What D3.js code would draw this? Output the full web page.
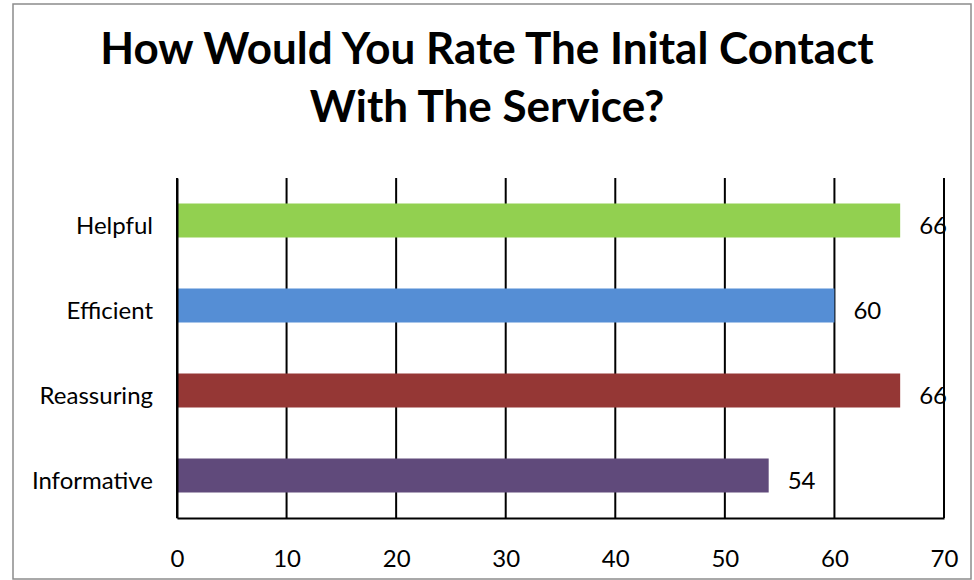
<!DOCTYPE html>
<html>
<head>
<meta charset="utf-8">
<script src="https://cdn.jsdelivr.net/npm/d3@7"></script>
<style>
  html, body { margin: 0; padding: 0; background: #fff; }
  svg { display: block; }
  text { font-family: Lato, "Open Sans", sans-serif; fill: #000; }
</style>
</head>
<body>
<svg id="chart" width="974" height="580"></svg>
<script>
// Survey results: rating of the initial contact with the service
const titleLines = ["How Would You Rate The Inital Contact", "With The Service?"];
const categories = ["Helpful", "Efficient", "Reassuring", "Informative"];
const values = [66, 60, 66, 54];
const barColors = ["#92d050", "#558ed5", "#953735", "#604a7b"];
const xTicks = [0, 10, 20, 30, 40, 50, 60, 70];

const svg = d3.select("#chart");
const W = 974, H = 580;
const margin = { left: 177, right: 974 - 944, top: 178, bottom: 580 - 518 };

// outer frame
svg.append("rect")
  .attr("x", 13).attr("y", 4)
  .attr("width", 971 - 13).attr("height", 579 - 4)
  .attr("fill", "#fff")
  .attr("stroke", "#8c8c8c")
  .attr("stroke-width", 1.5);

// title
svg.append("text")
  .attr("text-anchor", "middle")
  .attr("font-weight", 700)
  .attr("font-size", 44)
  .selectAll("tspan")
  .data(titleLines)
  .join("tspan")
  .attr("x", 487)
  .attr("y", (d, i) => 64 + i * 58)
  .text(d => d);

const x = d3.scaleLinear().domain([0, 70]).range([margin.left, W - margin.right]);
const y = d3.scaleBand().domain(categories)
  .range([margin.top, H - margin.bottom])
  .paddingInner(0.6).paddingOuter(0.3);

const plotTop = margin.top, plotBottom = H - margin.bottom;

// vertical gridlines
svg.append("g")
  .selectAll("line")
  .data(xTicks)
  .join("line")
  .attr("x1", d => x(d)).attr("x2", d => x(d))
  .attr("y1", plotTop).attr("y2", plotBottom)
  .attr("stroke", "#000")
  .attr("stroke-width", 2);

// bars
svg.append("g")
  .selectAll("rect")
  .data(categories)
  .join("rect")
  .attr("x", x(0))
  .attr("y", d => y(d))
  .attr("width", (d, i) => x(values[i]) - x(0))
  .attr("height", y.bandwidth())
  .attr("fill", (d, i) => barColors[i]);

// value labels
svg.append("g")
  .selectAll("text")
  .data(categories)
  .join("text")
  .attr("x", (d, i) => x(values[i]) + 19)
  .attr("y", d => y(d) + y.bandwidth() / 2 + 13)
  .attr("font-size", 24)
  .text((d, i) => values[i]);

// y axis (category labels, no tick marks)
const yAxis = svg.append("g")
  .attr("transform", `translate(${x(0)},0)`)
  .call(d3.axisLeft(y).tickSize(0).tickPadding(24));
yAxis.select(".domain").attr("stroke", "#000").attr("stroke-width", 2);
yAxis.selectAll("text")
  .attr("font-size", 24)
  .attr("font-family", "Lato, 'Open Sans', sans-serif")
  .attr("fill", "#000")
  .attr("dy", null)
  .attr("y", 13);

// x axis
const xAxis = svg.append("g")
  .attr("transform", `translate(0,${plotBottom})`)
  .call(d3.axisBottom(x).tickValues(xTicks).tickSize(0).tickPadding(0));
xAxis.select(".domain").attr("stroke", "#000").attr("stroke-width", 2);
xAxis.selectAll("text")
  .attr("font-size", 24)
  .attr("font-family", "Lato, 'Open Sans', sans-serif")
  .attr("fill", "#000")
  .attr("dy", null)
  .attr("y", 49);
</script>
</body>
</html>
